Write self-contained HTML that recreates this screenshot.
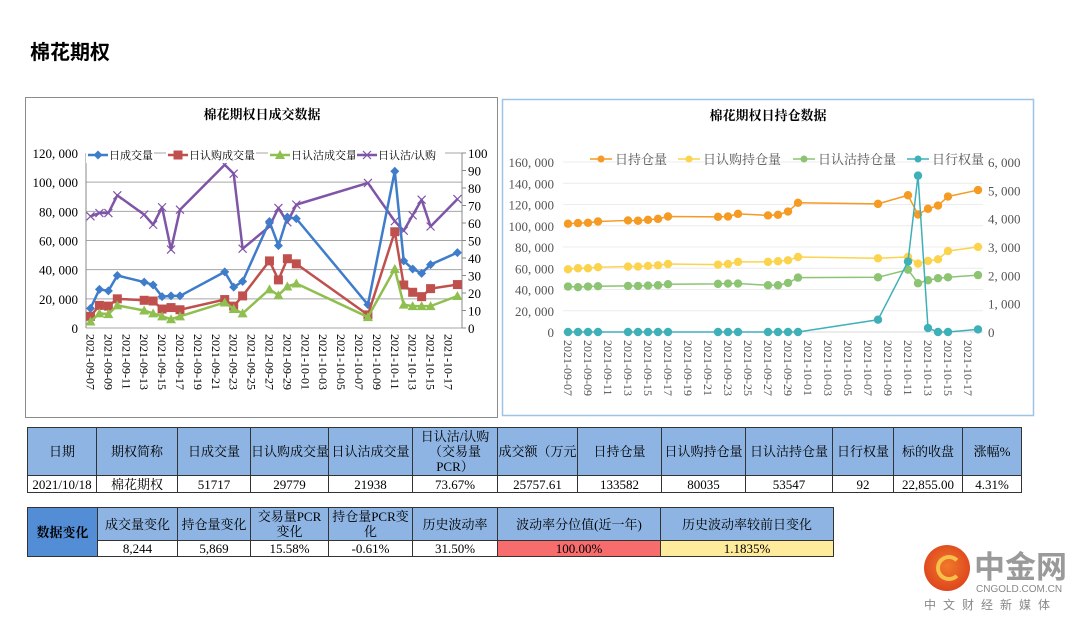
<!DOCTYPE html>
<html><head><meta charset="utf-8">
<style>
body{margin:0;background:#fff;width:1080px;height:621px;overflow:hidden;position:relative;font-family:"Liberation Serif","Noto Serif CJK SC",serif;}
.title{position:absolute;left:30px;top:36px;font:bold 20px "Liberation Sans","Noto Sans CJK SC",sans-serif;color:#000;}
table{position:absolute;border-collapse:collapse;font-size:13px;font-family:"Liberation Serif","Noto Serif CJK SC",serif;table-layout:fixed;}
td{border:1px solid #333;text-align:center;padding:0;overflow:hidden;white-space:nowrap;line-height:15px;}
td.h{background:#8db4e2;}
</style></head><body>
<div class="title">棉花期权</div>

<svg id="c1" style="position:absolute;left:0;top:0" width="1080" height="430"></svg>

<table style="left:27px;top:427px;width:994px;">
<colgroup><col style="width:69px"><col style="width:81px"><col style="width:73px"><col style="width:78px"><col style="width:84px"><col style="width:85px"><col style="width:80px"><col style="width:84px"><col style="width:84px"><col style="width:87px"><col style="width:61px"><col style="width:69px"><col style="width:59px"></colgroup>
<tr style="height:48px"><td class="h">日期</td><td class="h">期权简称</td><td class="h">日成交量</td><td class="h">日认购成交量</td><td class="h">日认沽成交量</td><td class="h" style="white-space:normal">日认沽/认购<br>（交易量<br>PCR）</td><td class="h">成交额（万元</td><td class="h">日持仓量</td><td class="h">日认购持仓量</td><td class="h">日认沽持仓量</td><td class="h">日行权量</td><td class="h">标的收盘</td><td class="h">涨幅%</td></tr>
<tr style="height:17px"><td>2021/10/18</td><td>棉花期权</td><td>51717</td><td>29779</td><td>21938</td><td>73.67%</td><td>25757.61</td><td>133582</td><td>80035</td><td>53547</td><td>92</td><td>22,855.00</td><td>4.31%</td></tr>
</table>

<table style="left:27px;top:507px;width:806px;">
<colgroup><col style="width:70px"><col style="width:80px"><col style="width:73px"><col style="width:78px"><col style="width:84px"><col style="width:85px"><col style="width:163px"><col style="width:173px"></colgroup>
<tr style="height:33px"><td rowspan="2" style="background:#538dd5;font-weight:bold">数据变化</td><td class="h">成交量变化</td><td class="h">持仓量变化</td><td class="h" style="white-space:normal">交易量PCR<br>变化</td><td class="h" style="white-space:normal">持仓量PCR变<br>化</td><td class="h">历史波动率</td><td class="h">波动率分位值(近一年)</td><td class="h">历史波动率较前日变化</td></tr>
<tr style="height:16px"><td>8,244</td><td>5,869</td><td>15.58%</td><td>-0.61%</td><td>31.50%</td><td style="background:#f76c6c">100.00%</td><td style="background:#ffeb9c">1.1835%</td></tr>
</table>

<div style="position:absolute;left:922px;top:545px;width:150px;height:70px;">
<div style="position:absolute;left:2px;top:0;width:46px;height:46px;border-radius:50%;background:radial-gradient(circle at 50% 45%,#f07a2a,#d8321a);"></div>
<div style="position:absolute;left:14px;top:10px;width:18px;height:18px;border-radius:50%;border:4px solid #f6c04a;border-right-color:transparent;"></div>
<div style="position:absolute;left:52px;top:3px;font:bold 31px 'Noto Sans CJK SC',sans-serif;color:#9a9a9a;line-height:34px;">中金网</div>
<div style="position:absolute;left:54px;top:39px;font:10px 'Liberation Sans',sans-serif;color:#888;">CNGOLD.COM.CN</div>
<div style="position:absolute;left:2px;top:51px;font:12px 'Noto Sans CJK SC',sans-serif;color:#888;letter-spacing:7px;">中文财经新媒体</div>
</div>

<script>
const dates=["09-07","09-08","09-09","09-10","09-13","09-14","09-15","09-16","09-17","09-22","09-23","09-24","09-27","09-28","09-29","09-30","10-08","10-11","10-12","10-13","10-14","10-15","10-18"];
const volTotal=[13500,26500,25500,36000,31500,29500,21500,22000,22000,38500,28000,32000,73000,56500,76000,75000,16000,107500,46000,40500,37500,43500,51717];
const volCall=[8000,15500,15000,20000,19000,18500,13000,14000,12500,19500,15000,22000,46000,33000,47500,44000,9000,66000,29500,24500,21500,27000,29779];
const volPut=[4500,10000,9500,15500,12000,10000,8000,6000,8000,17500,13000,10000,26500,22500,28500,30500,7500,40500,16000,15000,15000,15000,21938];
const pcr=[63.8,65.7,65.7,75.8,64.8,59,69,44.8,67.6,93.3,88.2,45.3,58,68.6,60.4,70.5,82.9,61,55.6,64.4,73.3,58,73.67];
const oiTotal=[101900,102500,102800,104000,105000,104700,105600,106500,108700,108400,108700,111200,109700,110300,113400,121600,120600,128700,110600,116000,119000,127500,133582];
const oiCall=[59000,60000,60000,61000,61600,61600,62200,62800,64000,63400,64000,66000,66000,66600,67500,70600,69400,70600,64400,66900,68400,76200,80035];
const oiPut=[42800,42200,42800,43100,43400,43400,43700,44000,45000,45300,45600,45600,44000,44000,46200,51200,51500,58700,45900,48700,50600,51500,53547];
const exercise=[0,0,0,0,0,0,0,0,0,0,0,0,0,0,0,0,434,2485,5520,140,0,0,92];
const tickLabels=["2021-09-07","2021-09-09","2021-09-11","2021-09-13","2021-09-15","2021-09-17","2021-09-19","2021-09-21","2021-09-23","2021-09-25","2021-09-27","2021-09-29","2021-10-01","2021-10-03","2021-10-05","2021-10-07","2021-10-09","2021-10-11","2021-10-13","2021-10-15","2021-10-17"];
const lTicks=[0,20000,40000,60000,80000,100000,120000];
const lRTicks=[0,10,20,30,40,50,60,70,80,90,100];
const rTicks=[0,20000,40000,60000,80000,100000,120000,140000,160000];
const rRTicks=[0,1000,2000,3000,4000,5000,6000];

const NS="http://www.w3.org/2000/svg";
const svg=document.getElementById('c1');
function mk(tag,at,parent){const e=document.createElementNS(NS,tag);for(const k in at)e.setAttribute(k,at[k]);(parent||svg).appendChild(e);return e;}
function dayIdx(s){const [m,d]=s.split('-').map(Number);return m===9?d-7:23+d;}
function fmt(v){return v.toLocaleString('en-US').replace(/,/g,', ');}
const F='"Liberation Serif","Noto Serif CJK SC",serif';

// ---------- left chart ----------
let b=mk('rect',{x:25.5,y:97.5,width:472,height:320,fill:'#fff',stroke:'#8c8c8c'});


let t=mk('text',{x:262,y:119,'text-anchor':'middle','font-size':13,'font-weight':'bold','font-family':F});t.textContent='棉花期权日成交数据';


const L={x0:86,x1:462,y0:328,y1:153,dw:8.95};
const lx=d=>L.x0+(dayIdx(d)+0.5)*L.dw;
const ly=v=>L.y0-(v/120000)*(L.y0-L.y1);
const lyR=v=>L.y0-(v/100)*(L.y0-L.y1);
lTicks.forEach(v=>{
  const g=mk('line',{x1:L.x0,x2:L.x1,y1:ly(v),y2:ly(v),stroke:'#a6a6a6','stroke-width':1});
  
  
  const tx=mk('text',{x:78,y:ly(v)+5,'text-anchor':'end','font-size':13,'font-family':F});tx.textContent=fmt(v);
  
  
});
lRTicks.forEach(v=>{
  const tx=mk('text',{x:468,y:lyR(v)+5,'font-size':13,'font-family':F});tx.textContent=v;
  
  
  mk('line',{x1:L.x1,x2:L.x1+4,y1:lyR(v),y2:lyR(v),stroke:'#888'});
});
mk('line',{x1:L.x0,x2:L.x0,y1:L.y1,y2:L.y0,stroke:'#888'});
mk('line',{x1:L.x1,x2:L.x1,y1:L.y1,y2:L.y0,stroke:'#888'});
tickLabels.forEach(s=>{
  const x=lx(s.slice(5));
  const tx=mk('text',{x:0,y:0,transform:`translate(${x-4},334) rotate(90)`,'font-size':12,'font-family':F});tx.textContent=s;
  
  
});
function series(vals,xf,yf,color,w,marker,name,mr){
  const pts=vals.map((v,i)=>[xf(dates[i]),yf(v)]);
  const p=mk('polyline',{points:pts.map(q=>q.join(',')).join(' '),fill:'none',stroke:color,'stroke-width':w,'stroke-linejoin':'round'});
  
  
  pts.forEach(q=>{const m=drawMarker(q[0],q[1],marker,color,mr);
    
    });
}
function drawMarker(x,y,type,c,r){
  if(type==='diamond')return mk('polygon',{points:`${x},${y-4.5} ${x+4.5},${y} ${x},${y+4.5} ${x-4.5},${y}`,fill:c});
  if(type==='square')return mk('rect',{x:x-4.5,y:y-4.5,width:9,height:9,fill:c});
  if(type==='tri')return mk('polygon',{points:`${x},${y-5} ${x+5},${y+4} ${x-5},${y+4}`,fill:c});
  if(type==='x')return mk('path',{d:`M${x-4},${y-4}L${x+4},${y+4}M${x+4},${y-4}L${x-4},${y+4}`,stroke:c,'stroke-width':1.2});
  return mk('circle',{cx:x,cy:y,r:r||4,fill:c});
}
series(pcr,lx,lyR,'#7f55a8',2.5,'x','put-call-ratio');
series(volTotal,lx,ly,'#3f7cc9',2.5,'diamond','total-volume');
series(volCall,lx,ly,'#c0504d',2.5,'square','call-volume');
series(volPut,lx,ly,'#8fbf4f',2.5,'tri','put-volume');
[[88,'#3f7cc9','diamond','日成交量'],[168,'#c0504d','square','日认购成交量'],[270,'#8fbf4f','tri','日认沽成交量'],[357,'#7f55a8','x','日认沽/认购']].forEach(a=>{
  const g=mk('g',{});
  
  
  mk('rect',{x:a[0]-2,y:147,width:a[3].length*11+24,height:16,fill:'#fff'},g);
  mk('line',{x1:a[0],x2:a[0]+20,y1:155,y2:155,stroke:a[1],'stroke-width':2.5},g);
  g.appendChild(drawMarker(a[0]+10,155,a[2],a[1]));
  const tx=mk('text',{x:a[0]+21,y:159,'font-size':11,'font-family':F},g);tx.textContent=a[3];
});

// ---------- right chart ----------
b=mk('rect',{x:502.5,y:99.5,width:531,height:316,fill:'#fff',stroke:'#9dc3e6','stroke-width':1.5});


t=mk('text',{x:768,y:120,'text-anchor':'middle','font-size':13,'font-weight':'bold','font-family':F});t.textContent='棉花期权日持仓数据';


const R={x0:563,x1:983,y0:332,y1:162,dw:10};
const rx=d=>R.x0+(dayIdx(d)+0.5)*R.dw;
const ry=v=>R.y0-(v/160000)*(R.y0-R.y1);
const ryR=v=>R.y0-(v/6000)*(R.y0-R.y1);
rTicks.forEach(v=>{
  const g=mk('line',{x1:R.x0,x2:R.x1,y1:ry(v),y2:ry(v),stroke:'#ececec'});
  
  
  const tx=mk('text',{x:554,y:ry(v)+5,'text-anchor':'end','font-size':13,'font-family':F,fill:'#555'});tx.textContent=fmt(v);
  
  
});
rRTicks.forEach(v=>{
  const tx=mk('text',{x:988,y:ryR(v)+5,'font-size':13,'font-family':F,fill:'#555'});tx.textContent=fmt(v);
  
  
});
mk('line',{x1:R.x0,x2:R.x1,y1:R.y0,y2:R.y0,stroke:'#d9d9d9'});
tickLabels.forEach(s=>{
  const x=rx(s.slice(5));
  const tx=mk('text',{x:0,y:0,transform:`translate(${x-4},340) rotate(90)`,'font-size':12,'font-family':F,fill:'#555'});tx.textContent=s;
  
  
});
series(oiTotal,rx,ry,'#f59a23',1.5,'circle','total-open-interest',4.2);
series(oiCall,rx,ry,'#fcd34d',1.5,'circle','call-open-interest',4.2);
series(oiPut,rx,ry,'#8cc474',1.5,'circle','put-open-interest',4.2);
series(exercise,rx,ryR,'#3fb0b8',1.5,'circle','exercise-volume',4.2);
[[590,'#f59a23','日持仓量'],[678,'#fcd34d','日认购持仓量'],[793,'#8cc474','日认沽持仓量'],[907,'#3fb0b8','日行权量']].forEach(a=>{
  const g=mk('g',{});
  
  
  mk('line',{x1:a[0],x2:a[0]+22,y1:159,y2:159,stroke:a[1],'stroke-width':1.5},g);
  mk('circle',{cx:a[0]+11,cy:159,r:3.5,fill:a[1]},g);
  const tx=mk('text',{x:a[0]+25,y:164,'font-size':13,'font-family':F,fill:'#555'},g);tx.textContent=a[2];
});
</script>
</body></html>
